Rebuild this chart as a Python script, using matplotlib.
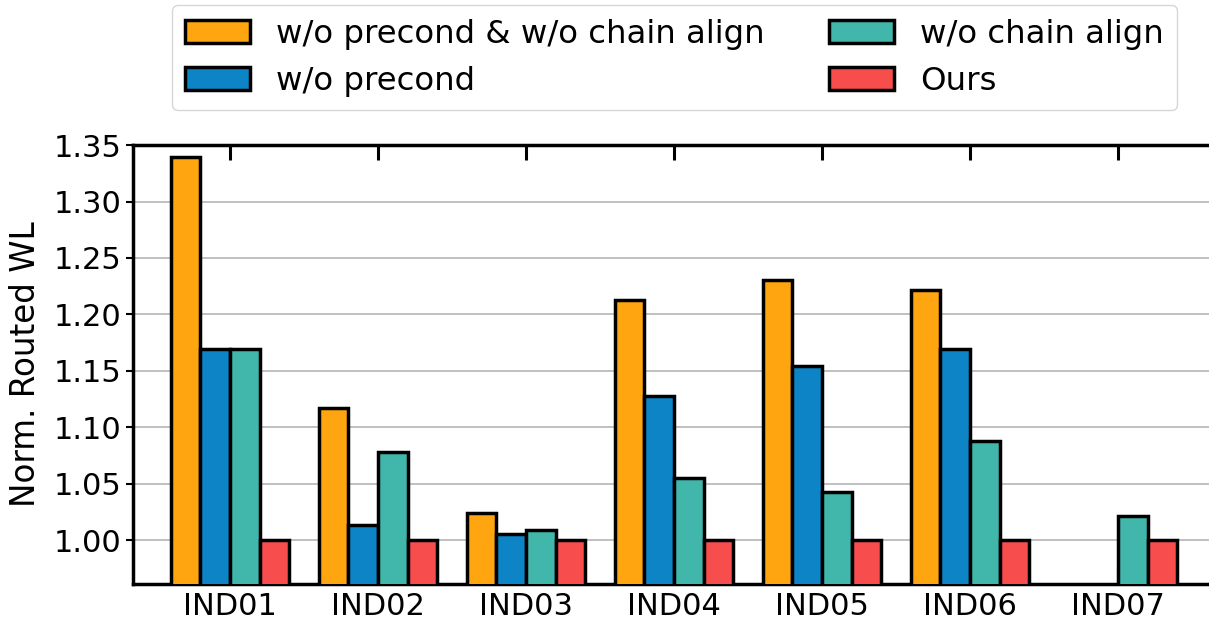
import numpy as np
import matplotlib
matplotlib.use("Agg")
import matplotlib.pyplot as plt

categories = ["IND01", "IND02", "IND03", "IND04", "IND05", "IND06", "IND07"]
series_names = ["w/o precond & w/o chain align", "w/o precond", "w/o chain align", "Ours"]
no_precond_no_align = [1.339, 1.117, 1.024, 1.213, 1.230, 1.222, np.nan]
no_precond = [1.169, 1.013, 1.005, 1.128, 1.154, 1.169, np.nan]
no_chain_align = [1.169, 1.078, 1.009, 1.055, 1.043, 1.088, 1.021]
ours = [1.0, 1.0, 1.0, 1.0, 1.0, 1.0, 1.0]
colors = ["#FFA510", "#0C84C6", "#41B7AC", "#F74D4D"]

plt.rcParams['font.family'] = ['DejaVu Sans']

fig = plt.figure(figsize=(12.09, 6.2), dpi=100)
ax = fig.add_axes([0.110, 0.058, 0.890, 0.708])

x = np.arange(len(categories))
width = 0.2
all_series = [no_precond_no_align, no_precond, no_chain_align, ours]
offsets = [-1.5, -0.5, 0.5, 1.5]
handles = []
for vals, off, c, name in zip(all_series, offsets, colors, series_names):
    b = ax.bar(x + off * width, vals, width, color=c, edgecolor="black",
               linewidth=2.5, label=name, zorder=3)
    handles.append(b)

ax.set_ylim(0.961, 1.35)
ax.set_xlim(-0.655, 6.615)
ax.set_yticks([1.00, 1.05, 1.10, 1.15, 1.20, 1.25, 1.30, 1.35])
ax.set_yticklabels(["1.00", "1.05", "1.10", "1.15", "1.20", "1.25", "1.30", "1.35"])
ax.set_xticks(x)
ax.set_xticklabels(categories)
ax.tick_params(axis='both', labelsize=22)
ax.tick_params(axis='x', direction='in', top=True, bottom=True, length=11, width=2.2, pad=6)
ax.tick_params(axis='y', length=5, width=1.5)
ax.set_ylabel("Norm. Routed WL", fontsize=23.5, labelpad=8)
ax.yaxis.grid(True, color="#bbbbbb", linewidth=1.3, zorder=0)
ax.set_axisbelow(True)
for s in ["left", "bottom", "top"]:
    ax.spines[s].set_linewidth(2.5)
ax.spines["right"].set_visible(False)

fig.legend(handles=handles, labels=series_names, loc="upper center",
           bbox_to_anchor=(0.558, 0.992), ncol=2, fontsize=23.3,
           frameon=True, fancybox=True, edgecolor="#cccccc",
           columnspacing=2.0, handlelength=2.0, handletextpad=0.8,
           labelspacing=0.5, borderpad=0.42, borderaxespad=0.0)

fig.savefig("out.png", dpi=100)
